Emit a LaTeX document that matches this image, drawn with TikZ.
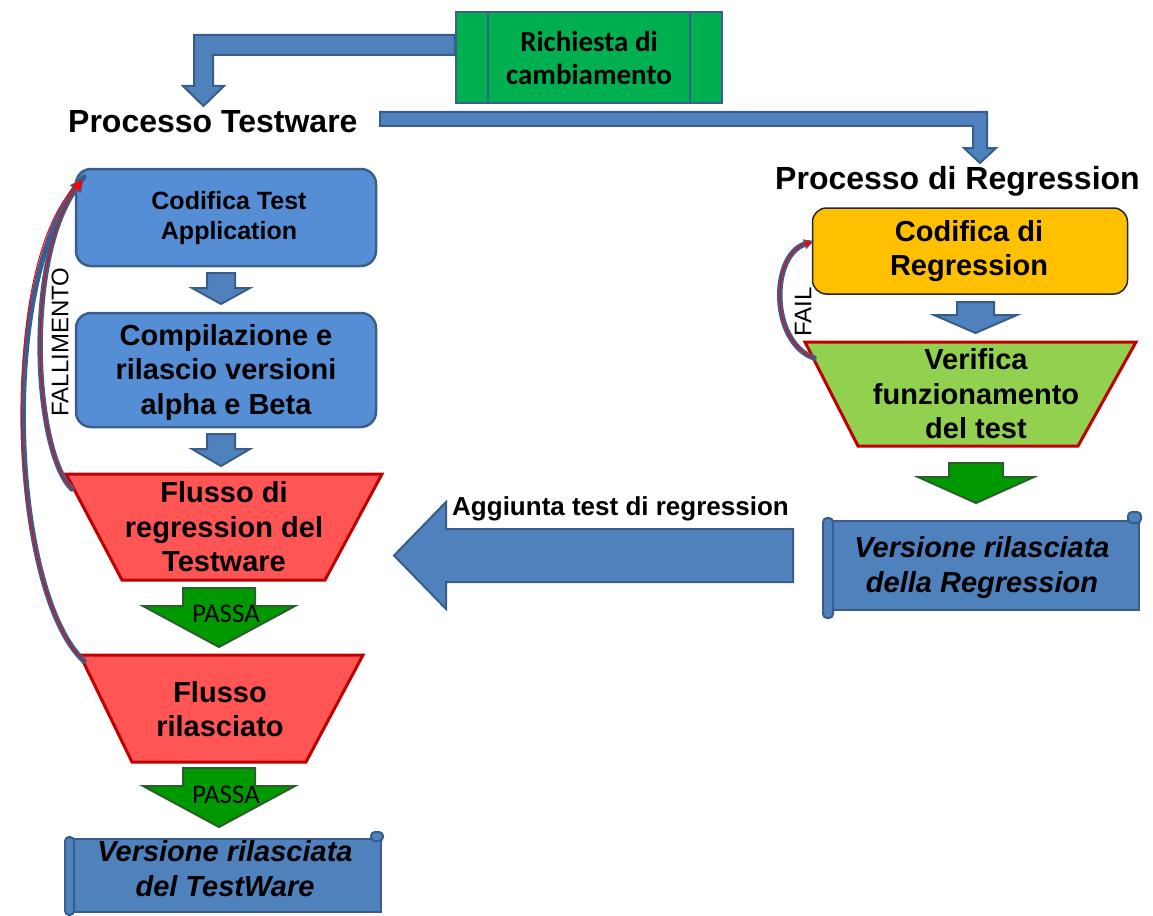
\documentclass[tikz,border=0pt]{standalone}
\usepackage{fontspec}
\setmainfont{Liberation Sans}
\newfontfamily\calfont{Carlito}
\usetikzlibrary{arrows.meta}

\definecolor{boxblue}{HTML}{558ED5}
\definecolor{edgeblue}{HTML}{3B5E8C}
\definecolor{arrowblue}{HTML}{4F81BD}
\definecolor{arrowedge}{HTML}{385D8A}
\definecolor{flowred}{HTML}{FF5555}
\definecolor{darkred}{HTML}{C00000}
\definecolor{passgreen}{HTML}{009A00}
\definecolor{passedge}{HTML}{2A5E2A}
\definecolor{reqgreen}{HTML}{00B050}
\definecolor{codorange}{HTML}{FFC000}
\definecolor{verifgreen}{HTML}{92D050}

\begin{document}
\begin{tikzpicture}[x=1pt,y=-1pt,
  txt/.style={align=center, inner sep=0pt},
  boldtxt/.style={txt, font=\bfseries\fontsize{29}{34.5}\selectfont},
  itxt/.style={txt, font=\bfseries\itshape\fontsize{29}{35}\selectfont},
  bluebox/.style={draw=edgeblue, line width=2.5pt, fill=boxblue, rounded corners=15pt, inner sep=0pt},
  blockarrow/.style={draw=arrowedge, line width=2pt, fill=arrowblue, line join=miter},
  passarrow/.style={draw=passedge, line width=2pt, fill=passgreen, line join=miter},
  trapred/.style={draw=darkred, line width=3pt, fill=flowred, line join=miter},
  trapgreen/.style={draw=darkred, line width=3pt, fill=verifgreen, line join=miter},
  scrollbody/.style={draw=arrowedge, line width=2.5pt, fill=arrowblue},
  scrollroll/.style={draw=arrowedge, line width=2pt, fill=arrowblue, rounded corners=4pt},
  passlbl/.style={txt, font=\calfont\fontsize{27}{30}\selectfont},
  sidelbl/.style={txt, font=\fontsize{24}{28}\selectfont, rotate=90},
  loopblue/.style={draw=edgeblue, line width=5.5pt, line cap=round},
  loopred/.style={draw=red, line width=1pt, line cap=round},
]
\useasboundingbox (0,0) rectangle (1153,915);

% ---------- change request ----------
\node[draw=edgeblue, line width=2.5pt, fill=reqgreen, minimum width=266pt, minimum height=91pt, inner sep=0pt] (req) at (589,57.5) {};
\draw[edgeblue, line width=2pt] (488,12) -- (488,103) (690,12) -- (690,103);
\node[txt, font=\calfont\bfseries\fontsize{29}{33}\selectfont] (reqtxt) at (589,58) {Richiesta di\\cambiamento};

% bent arrow: request -> testware process
\draw[blockarrow] (req.west |- 0,35) -- (194,35) -- (194,86) -- (183,86) -- (203.5,106) -- (224,86) -- (213,86) -- (213,55) -- (req.west |- 0,55) -- cycle;

% ---------- titles ----------
\node[anchor=base west, inner sep=0pt, font=\bfseries\fontsize{32}{36}\selectfont] (ptest) at (68,132) {Processo Testware};
\node[anchor=base west, inner sep=0pt, font=\bfseries\fontsize{32}{36}\selectfont] (preg) at (775,189) {Processo di Regression};

% bent arrow: testware process -> regression process
\draw[blockarrow] (380,112) -- (987,112) -- (987,148) -- (996,148) -- (980,163) -- (964,148) -- (973,148) -- (973,126) -- (380,126) -- cycle;

% ---------- left column ----------
\node[bluebox, minimum width=300pt, minimum height=97pt] (cod) at (226,217.5) {};
\node[txt, font=\bfseries\fontsize{25}{30}\selectfont] (codtxt) at (229,218) {Codifica Test\\Application};

\draw[blockarrow] (207,273) -- (235,273) -- (235,288) -- (250,288) -- (221,304) -- (192,288) -- (207,288) -- cycle;

\node[bluebox, minimum width=300pt, minimum height=114pt] (comp) at (226,370) {};
\node[boldtxt] (comptxt) at (226,372) {Compilazione e\\rilascio versioni\\alpha e Beta};

\draw[blockarrow] (207,434) -- (235,434) -- (235,449) -- (250,449) -- (221,466) -- (192,449) -- (207,449) -- cycle;

% first regression flow
\coordinate (t1nw) at (66,474);
\draw[trapred] (t1nw) -- (382,474) -- (325,580) -- (122,580) -- cycle;
\node[boldtxt] (flusso) at (224,527) {Flusso di\\regression del\\Testware};

\draw[passarrow] (183,588) -- (255,588) -- (255,606) -- (295,606) -- (219,647) -- (143,606) -- (183,606) -- cycle;
\node[passlbl] (pass1) at (226,614) {PASSA};

% released flow
\coordinate (t2nw) at (80,655);
\draw[trapred] (t2nw) -- (363,655) -- (306,762) -- (132,762) -- cycle;
\node[boldtxt] (rilas) at (220,709) {Flusso\\rilasciato};

\draw[passarrow] (183,768) -- (255,768) -- (255,786) -- (295,786) -- (219,827) -- (143,786) -- (183,786) -- cycle;
\node[passlbl] (pass2) at (226,795) {PASSA};

% released testware (scroll)
\draw[scrollbody] (70,839) -- (381,839) -- (381,912) -- (70,912) -- cycle;
\draw[scrollroll] (371,832) rectangle (383,841);
\draw[scrollroll] (65,837) rectangle (74,915);
\node[itxt] (reltw) at (225,869) {Versione rilasciata\\del TestWare};

% failure loops
\coordinate (codnw) at (84,177);
\coordinate (t1in) at (72,489);
\coordinate (t2in) at (84,661);
\draw[loopblue] (t2in) .. controls (10,592) and (-4,272) .. (codnw);
\draw[loopblue, -{Triangle[length=15pt,width=13pt,fill=red,line width=1pt]}] (t1in) .. controls (34,452) and (24,262) .. (codnw);
\draw[loopred, shorten >=15pt] (t1in) .. controls (34,452) and (24,262) .. (codnw);
\draw[loopred, shorten >=15pt] (t2in) .. controls (10,592) and (-4,272) .. (codnw);
\node[sidelbl] (fall) at (60,342) {FALLIMENTO};

% ---------- right column ----------
\node[draw=black!85, line width=1.5pt, fill=codorange, rounded corners=14pt, minimum width=315pt, minimum height=86pt, inner sep=0pt] (codreg) at (970,251) {};
\node[boldtxt] (codregtxt) at (969,251) {Codifica di\\Regression};

\draw[blockarrow] (957,302) -- (994,302) -- (994,315) -- (1017,315) -- (975.5,333) -- (934,315) -- (957,315) -- cycle;

\coordinate (t3nw) at (805,342);
\draw[trapgreen] (t3nw) -- (1136,342) -- (1078,446) -- (858,446) -- cycle;
\node[boldtxt] (verif) at (976,394) {Verifica\\funzionamento\\del test};

% FAIL loop
\coordinate (vin) at (814,358);
\coordinate (cin) at (814,241);
\draw[loopblue, -{Triangle[length=10pt,width=10pt,fill=red,line width=1pt]}] (vin) .. controls (770,342) and (770,256) .. (cin);
\draw[loopred, shorten >=10pt] (vin) .. controls (770,342) and (770,256) .. (cin);
\node[sidelbl] (fail) at (803,312) {FAIL};

\draw[passarrow] (949,463) -- (1003,463) -- (1003,477) -- (1034,477) -- (976,503) -- (918,477) -- (949,477) -- cycle;

% released regression (scroll)
\draw[scrollbody] (829,521) -- (1139,521) -- (1139,610) -- (829,610) -- cycle;
\draw[scrollroll] (1128,512) rectangle (1141,523);
\draw[scrollroll] (823,518) rectangle (833,618);
\node[itxt] (relreg) at (982,567) {Versione rilasciata\\della Regression};

% add regression tests back to the testware flow
\draw[blockarrow] (793,529) -- (446,529) -- (446,502) -- (394,555.5) -- (446,609) -- (446,582) -- (793,582) -- cycle;
\node[anchor=base west, inner sep=0pt, font=\bfseries\fontsize{26}{30}\selectfont] (aggiunta) at (452,515) {Aggiunta test di regression};

\end{tikzpicture}
\end{document}
